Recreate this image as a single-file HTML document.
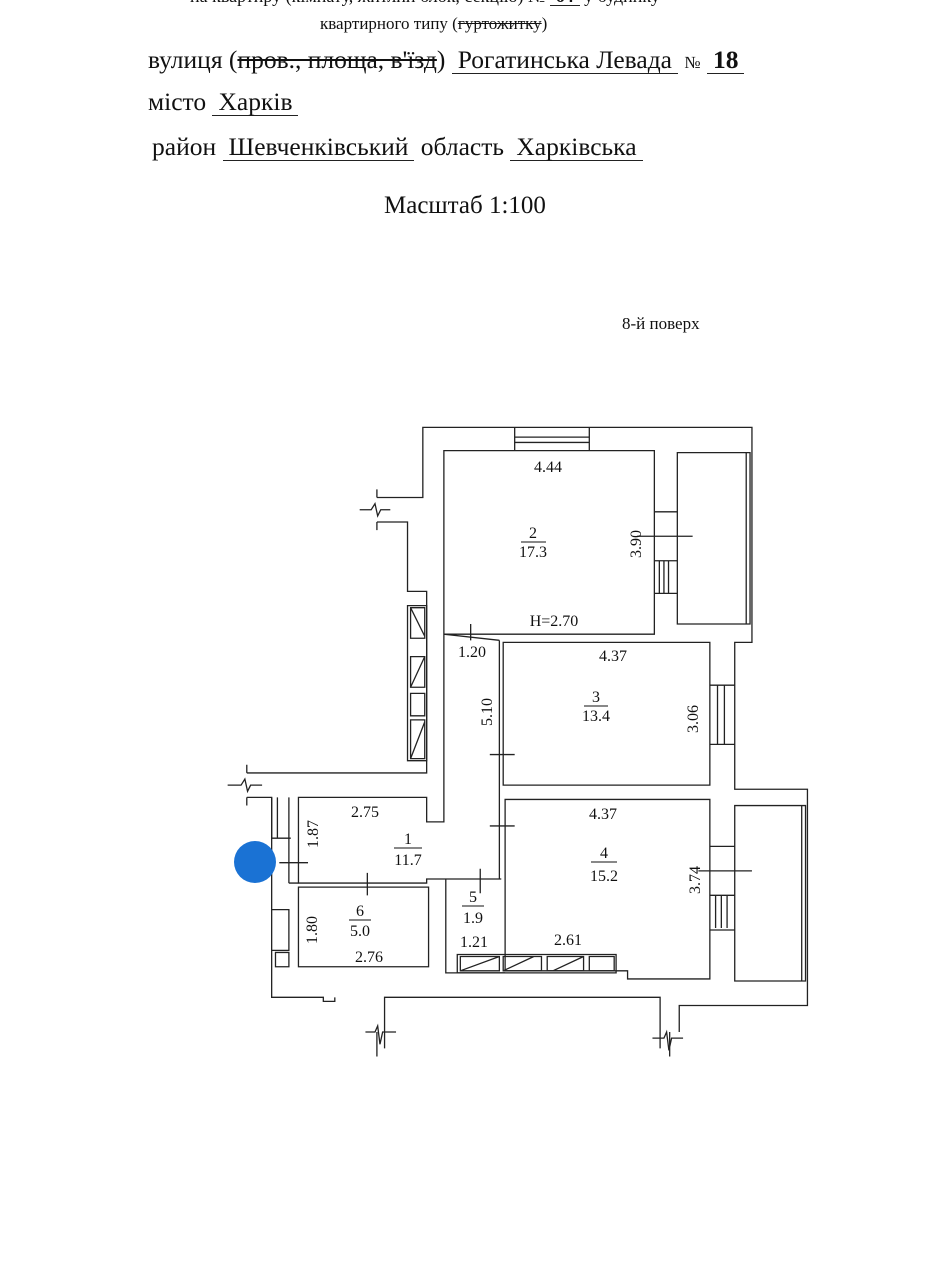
<!DOCTYPE html>
<html><head><meta charset="utf-8"><style>
body{margin:0;width:935px;height:1280px;background:#fff;overflow:hidden;position:relative;font-family:"Liberation Serif","DejaVu Serif",serif;color:#111}
.t{position:absolute;white-space:nowrap}
.u{border-bottom:1.5px solid #222;display:inline-block;padding:0 6px;line-height:1}
s{text-decoration:line-through}
</style></head><body>
<div class="t" style="left:190px;top:-14px;font-size:18px">на квартиру (<s>кімнату, житлий блок, секцію</s>) № <b class="u">64</b> у будинку</div>
<div class="t" style="left:320px;top:14px;font-size:17px">квартирного типу (<s>гуртожитку</s>)</div>
<div class="t" style="left:148px;top:45px;font-size:25.5px">вулиця (<s>пров., площа, в'їзд</s>) <span class="u">Рогатинська Левада</span> <span style="font-size:17px">№</span> <b class="u">18</b></div>
<div class="t" style="left:148px;top:87px;font-size:25.5px">місто <span class="u">Харків</span></div>
<div class="t" style="left:152px;top:132px;font-size:25.5px">район <span class="u">Шевченківський</span> область <span class="u">Харківська</span></div>
<div class="t" style="left:384px;top:192px;font-size:25px">Масштаб 1:100</div>
<div class="t" style="left:622px;top:314px;font-size:17px">8-й поверх</div>
<svg width="935" height="1280" style="position:absolute;left:0;top:0">
<g transform="translate(220,420) scale(0.3827,0.408)" fill="none" stroke="#222" stroke-width="1.3">
<path vector-effect="non-scaling-stroke" d="M410,190 H530 V18 H1390 V545 H1345 V905 H1535 V1435 H1200 V1500 M1150,1500 V1415 H430 V1500 M300,1415 V1425 H270 V1415 H135 V925 H70 M70,865 H540 V420 H490 V250 H410"/>
<path vector-effect="non-scaling-stroke" d="M585,75 H1135 V525 H585 Z M585,525 V985 H540 V925 H205 V1135 H540 V1125 H735 M730,540 V1125 M585,525 L730,540 M740,545 H1280 V895 H740 Z M745,930 H1280 V1370 H1065 V1350 H745 Z M590,1125 V1355 H745 M205,1145 H545 V1340 H205 Z M1195,80 H1385 V500 H1195 Z M1375,80 V500 M1345,945 H1530 V1375 H1345 Z M1520,945 V1375"/>
<path vector-effect="non-scaling-stroke" d="M770,18 V75 M965,18 V75 M770,42 H965 M770,55 H965 M1135,225 H1195 M1135,425 H1195 M1148,345 V425 M1160,345 V425 M1172,345 V425 M1135,345 H1195 M1280,650 H1345 M1280,795 H1345 M1300,650 V795 M1318,650 V795 M1280,1045 H1345 M1280,1250 H1345 M1295,1165 V1245 M1310,1165 V1245 M1325,1165 V1245 M1280,1165 H1345"/>
<path vector-effect="non-scaling-stroke" d="M490,455 H540 V835 H490 Z M498,460 H535 V535 H498 Z M498,460 L535,530 M498,580 H535 V655 H498 Z M498,655 L535,580 M498,670 H535 V725 H498 Z M498,735 H535 V830 H498 Z M498,830 L535,740 M620,1310 H1035 V1355 H620 Z M628,1315 H730 V1350 H628 Z M628,1350 L730,1315 M740,1315 H840 V1350 H740 Z M740,1350 L820,1315 M855,1315 H950 V1350 H855 Z M870,1350 L950,1315 M965,1315 H1030 V1350 H965 Z"/>
<path vector-effect="non-scaling-stroke" d="M135,925 V1025 H185 M150,1025 V925 M180,925 V1135 M135,1200 H180 V1300 H135 M145,1305 H180 V1340 H145 Z M205,1135 L180,1135 M155,1085 H230 M385,1110 V1165 M680,1100 V1160 M705,820 H770 M705,995 H770 M655,500 V540 M1090,285 H1235 M1250,1105 H1390"/>
<path vector-effect="non-scaling-stroke" d="M70,865 V845 M70,925 V945 M20,895 H55 L65,880 L72,910 L80,895 H110 M410,190 V170 M410,250 V270 M365,220 H395 L405,205 L412,235 L420,220 H445 M410,1500 V1560 M430,1500 V1540 M380,1500 H405 L412,1485 L418,1530 L425,1500 H460 M1150,1500 V1540 M1175,1500 V1560 M1130,1515 H1160 L1167,1500 L1173,1545 L1180,1515 H1210"/>
</g>
<circle cx="255" cy="862" r="21" fill="#1a72d4"/>
<g font-family="Liberation Serif,serif" font-size="16" fill="#111" text-anchor="middle">
<text x="548" y="472">4.44</text>
<text x="533" y="538">2</text><line x1="521" y1="542" x2="546" y2="542" stroke="#111"/><text x="533" y="557">17.3</text>
<text x="554" y="626">H=2.70</text>
<text x="472" y="657">1.20</text>
<text x="613" y="661">4.37</text>
<text x="596" y="702">3</text><line x1="584" y1="706" x2="608" y2="706" stroke="#111"/><text x="596" y="721">13.4</text>
<text x="603" y="819">4.37</text>
<text x="604" y="858">4</text><line x1="591" y1="862" x2="617" y2="862" stroke="#111"/><text x="604" y="881">15.2</text>
<text x="365" y="817">2.75</text>
<text x="408" y="844">1</text><line x1="394" y1="848" x2="422" y2="848" stroke="#111"/><text x="408" y="865">11.7</text>
<text x="360" y="916">6</text><line x1="349" y1="920" x2="371" y2="920" stroke="#111"/><text x="360" y="936">5.0</text>
<text x="369" y="962">2.76</text>
<text x="473" y="902">5</text><line x1="462" y1="906" x2="484" y2="906" stroke="#111"/><text x="473" y="923">1.9</text>
<text x="474" y="947">1.21</text>
<text x="568" y="945">2.61</text>
<text transform="translate(641,544) rotate(-90)">3.90</text>
<text transform="translate(698,719) rotate(-90)">3.06</text>
<text transform="translate(700,880) rotate(-90)">3.74</text>
<text transform="translate(492,712) rotate(-90)">5.10</text>
<text transform="translate(318,834) rotate(-90)">1.87</text>
<text transform="translate(317,930) rotate(-90)">1.80</text>
</g>
</svg>
</body></html>
